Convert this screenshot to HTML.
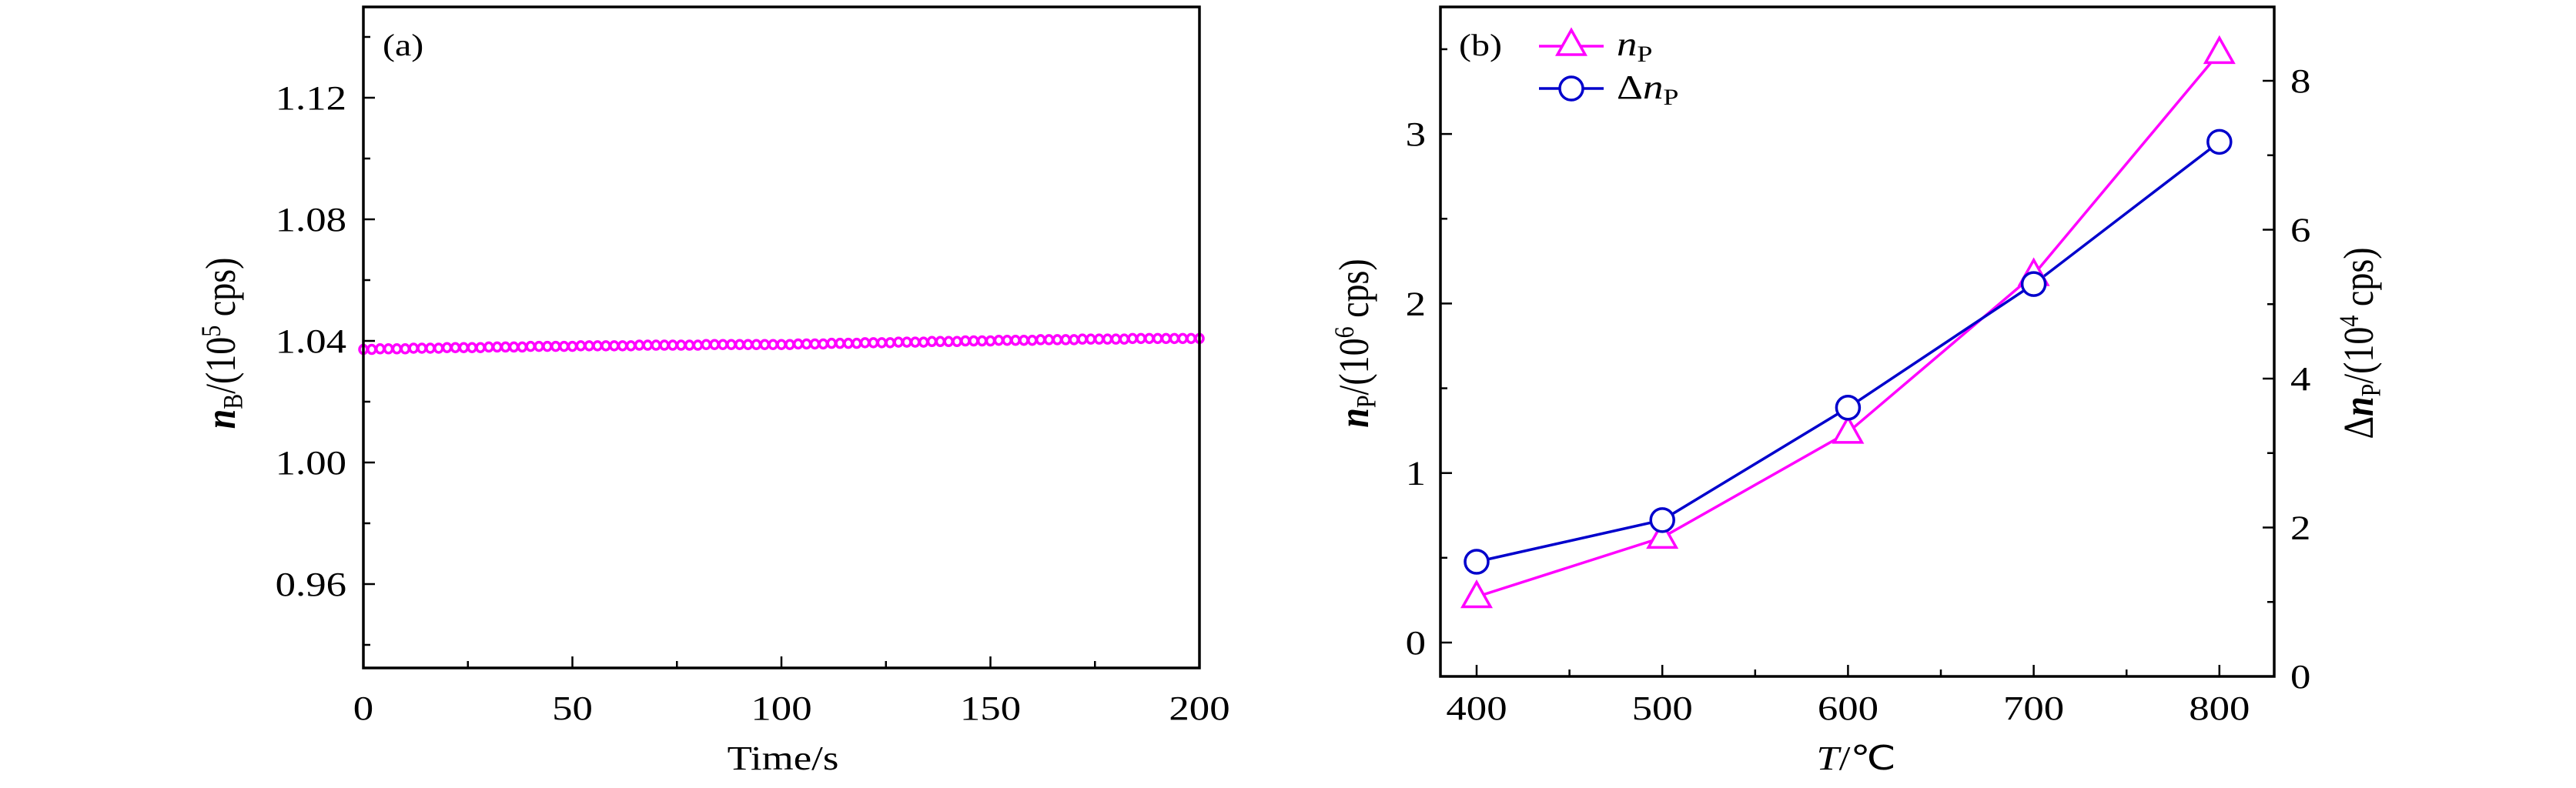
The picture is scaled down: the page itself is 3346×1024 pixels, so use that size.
<!DOCTYPE html>
<html><head><meta charset="utf-8"><style>
html,body{margin:0;padding:0;background:#fff;overflow:hidden;}
svg{display:block;}
text{font-family:"Liberation Serif",serif;fill:#000;}
</style></head><body>
<svg id="fig" width="3346" height="1024" viewBox="0 0 3346 1024" xmlns="http://www.w3.org/2000/svg"></svg>
<script>
// Panel (a) data
const aValues = [1.0372,1.0372,1.0374,1.0374,1.0374,1.0374,1.0376,1.0376,1.0376,1.0376,1.0378,1.0378,1.0378,1.0378,1.0378,1.0380,1.0380,1.0380,1.0380,1.0380,1.0382,1.0382,1.0382,1.0382,1.0382,
1.0382,1.0384,1.0384,1.0384,1.0384,1.0384,1.0384,1.0384,1.0386,1.0386,1.0386,1.0386,1.0386,1.0386,1.0386,1.0386,1.0388,1.0388,1.0388,1.0388,1.0388,1.0388,1.0388,1.0388,1.0388,
1.0388,1.0388,1.0390,1.0390,1.0390,1.0390,1.0392,1.0392,1.0392,1.0392,1.0394,1.0394,1.0394,1.0394,1.0396,1.0396,1.0396,1.0396,1.0398,1.0398,1.0398,1.0398,1.0400,1.0400,1.0400,1.0400,1.0402,1.0402,1.0402,1.0402,1.0402,1.0404,1.0404,1.0404,1.0404,1.0404,1.0406,1.0406,1.0406,1.0406,1.0406,1.0406,1.0408,1.0408,1.0408,1.0408,1.0408,1.0408,1.0408,1.0408,1.0408];
const aXTicks = [0,50,100,150,200];
const aYTicks = [0.96,1.00,1.04,1.08,1.12];
const aYTickLabels = ["0.96","1.00","1.04","1.08","1.12"];
// Panel (b) data
const bTemps = [400,500,600,700,800];
const bNP = [0.27,0.62,1.24,2.17,3.48];
const bDeltaNP = [1.54,2.10,3.61,5.27,7.18];
const bXTicks = [400,500,600,700,800];
const bYTicks = [0,1,2,3];
const bY2Ticks = [0,2,4,6,8];

const NS="http://www.w3.org/2000/svg";
const svg=document.getElementById('fig');
function mk(tag,attrs,parent){const e=document.createElementNS(NS,tag);for(const k in attrs)e.setAttribute(k,attrs[k]);(parent||svg).appendChild(e);return e;}
const SX=1.2;
function txt(x,y,str,anchor,size,rot){
  const g=mk('g',{transform:`translate(${x},${y}) scale(${SX},1)`+(rot?' rotate(-90)':'')});
  const t=mk('text',{x:0,y:0,'text-anchor':anchor||'middle','font-size':size||44},g);
  t.innerHTML=str;return t;
}
const MAG="#ff00ff", BLU="#0000cc";

// ---------- Panel A ----------
const aL=472,aR=1558,aT=9,aB=868;
const ax=v=>aL+(v-0)/200*(aR-aL);
const ay=v=>443-(v-1.04)/0.04*158;
const ga=mk('g',{});


const times=aValues.map((_,i)=>i*2);
aValues.forEach((v,i)=>{
  const c=mk('ellipse',{cx:ax(times[i]),cy:ay(v),rx:5,ry:5.5,fill:'none',stroke:MAG,'stroke-width':3.5},ga);
  
  
});
const fa=mk('rect',{x:aL,y:aT,width:aR-aL,height:aB-aT,fill:'none',stroke:'#000','stroke-width':3.5},ga);


for(let v=0;v<=200;v+=25){const major=v%50===0;mk('line',{x1:ax(v),x2:ax(v),y1:aB,y2:aB-(major?15:9),stroke:'#000','stroke-width':2.5},ga);}
for(let k=0;k<=12;k++){const v=0.92+k*0.02;const y=ay(v);if(y<aT+2||y>aB-2)continue;const q=(v-0.96)/0.04;const major=Math.abs(q-Math.round(q))<1e-6;mk('line',{x1:aL,x2:aL+(major?15:9),y1:y,y2:y,stroke:'#000','stroke-width':2.5},ga);}
aXTicks.forEach(v=>{const t=txt(ax(v),935,String(v),'middle');});
aYTicks.forEach((v,i)=>{const t=txt(450,ay(v)+15,aYTickLabels[i],'end');});
let t=txt(1017,1000,'Time/s','middle');
t=txt(305,446,'<tspan font-style="italic" font-weight="bold">n</tspan><tspan font-size="30" dy="8">B</tspan><tspan dy="-8">/(10</tspan><tspan font-size="30" dy="-16">5</tspan><tspan dy="16"> cps)</tspan>','middle',46,true);

t=txt(497,72,'(a)','start',40);

// ---------- Panel B ----------
const bL=1871,bR=2954,bT=9,bB=879;
const bx=v=>1918+(v-400)/100*241.2;
const by=v=>835-v*220.3;
const by2=v=>879-v*96.75;
const gb=mk('g',{});


const fb=mk('rect',{x:bL,y:bT,width:bR-bL,height:bB-bT,fill:'none',stroke:'#000','stroke-width':3.5},gb);


for(let v=400;v<=800;v+=50){const major=v%100===0;mk('line',{x1:bx(v),x2:bx(v),y1:bB,y2:bB-(major?15:9),stroke:'#000','stroke-width':2.5},gb);}
for(let v=0;v<=3.5;v+=0.5){const major=v%1===0;mk('line',{x1:bL,x2:bL+(major?15:9),y1:by(v),y2:by(v),stroke:'#000','stroke-width':2.5},gb);}
for(let v=1;v<=8;v+=1){const major=v%2===0;mk('line',{x1:bR,x2:bR-(major?15:9),y1:by2(v),y2:by2(v),stroke:'#000','stroke-width':2.5},gb);}
bXTicks.forEach(v=>{const t=txt(bx(v),935,String(v),'middle');});
bYTicks.forEach(v=>{const t=txt(1852,by(v)+15,String(v),'end');});
bY2Ticks.forEach(v=>{const t=txt(2975,by2(v)+15,String(v),'start');});
const pl1=mk('polyline',{points:bTemps.map((v,i)=>bx(v)+','+by(bNP[i])).join(' '),fill:'none',stroke:MAG,'stroke-width':3.5},gb);

const pl2=mk('polyline',{points:bTemps.map((v,i)=>bx(v)+','+by2(bDeltaNP[i])).join(' '),fill:'none',stroke:BLU,'stroke-width':3.5},gb);

function tri(cx,cy){return `${cx},${cy-19} ${cx-18},${cy+13} ${cx+18},${cy+13}`;}
bTemps.forEach((v,i)=>{
  const p=mk('polygon',{points:tri(bx(v),by(bNP[i])),fill:'#fff',stroke:MAG,'stroke-width':3.5},gb);
  
});
bTemps.forEach((v,i)=>{
  const c=mk('ellipse',{cx:bx(v),cy:by2(bDeltaNP[i]),rx:15,ry:15,fill:'#fff',stroke:BLU,'stroke-width':3.5},gb);
  
});
const lg=mk('g',{},gb);

mk('line',{x1:1999,x2:2083,y1:60,y2:60,stroke:MAG,'stroke-width':3.5},lg);
mk('polygon',{points:tri(2041,58),fill:'#fff',stroke:MAG,'stroke-width':3.5},lg);
mk('line',{x1:1999,x2:2083,y1:115,y2:115,stroke:BLU,'stroke-width':3.5},lg);
mk('ellipse',{cx:2041,cy:115,rx:15,ry:15,fill:'#fff',stroke:BLU,'stroke-width':3.5},lg);
t=txt(2100,72,'<tspan font-style="italic">n</tspan><tspan font-size="30" dy="8">P</tspan>','start',44);
t=txt(2100,128,'Δ<tspan font-style="italic">n</tspan><tspan font-size="30" dy="8">P</tspan>','start',44);
t=txt(1895,72,'(b)','start',40);
t=txt(2411,1000,'<tspan font-style="italic">T</tspan>/℃','middle');
t=txt(1777,446,'<tspan font-style="italic" font-weight="bold">n</tspan><tspan font-size="30" dy="8">P</tspan><tspan dy="-8">/(10</tspan><tspan font-size="30" dy="-16">6</tspan><tspan dy="16"> cps)</tspan>','middle',46,true);

t=txt(3082,446,'Δ<tspan font-style="italic" font-weight="bold">n</tspan><tspan font-size="30" dy="8">P</tspan><tspan dy="-8">/(10</tspan><tspan font-size="30" dy="-16">4</tspan><tspan dy="16"> cps)</tspan>','middle',46,true);

</script>
</body></html>
